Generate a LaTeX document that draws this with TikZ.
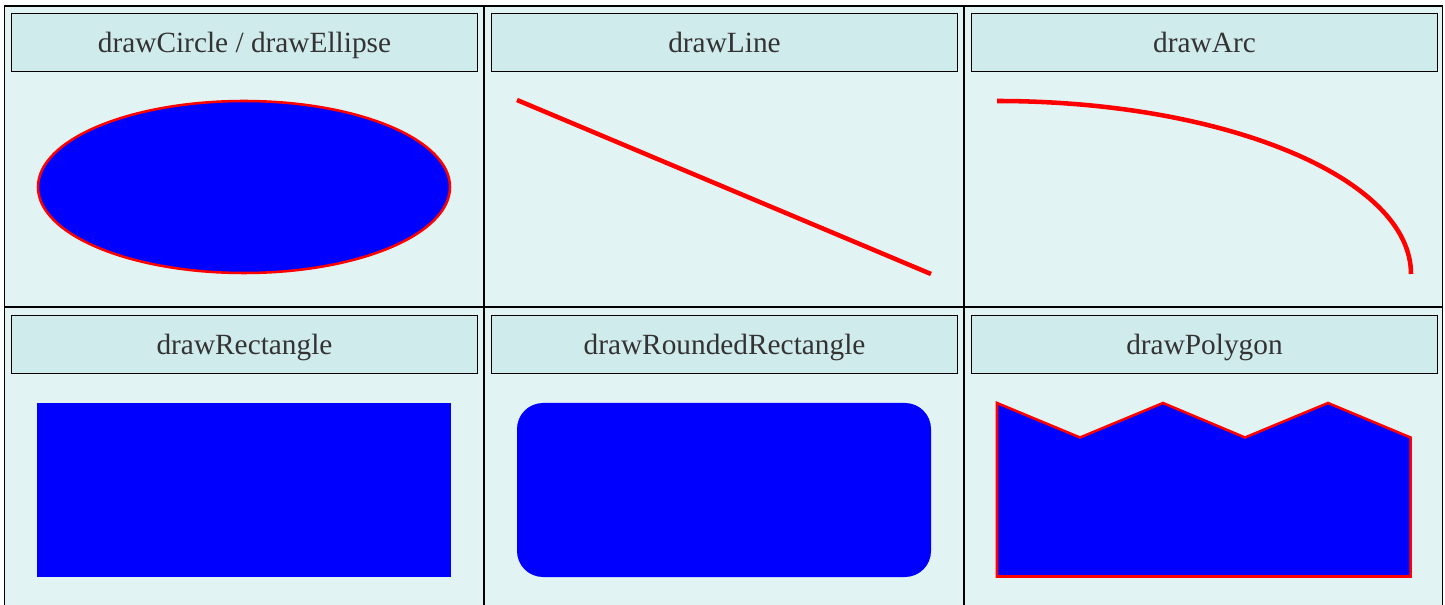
\documentclass[tikz,border=0pt]{standalone}
\usepackage{fontspec}
\setmainfont{Liberation Serif}
\definecolor{cellbg}{RGB}{226,243,243}
\definecolor{titlebg}{RGB}{208,235,236}
\definecolor{titletext}{RGB}{51,51,51}
\begin{document}
\begin{tikzpicture}[x=0.75pt,y=-0.75pt,
  cell/.style={draw=black,line width=1.2pt,fill=cellbg},
  titlebox/.style={draw=black,line width=0.75pt,fill=titlebg,minimum width=349.5pt,minimum height=43.5pt,inner sep=0pt,text height=16.5pt,text depth=2pt,anchor=north west,text=titletext,font=\fontsize{22}{26}\selectfont},
  shapefill/.style={fill=blue},
  redline/.style={draw=red,line width=3.4pt},
  rededge/.style={draw=red,line width=1.9pt}]
\useasboundingbox (0,0) rectangle (1445,605);
% cells
\draw[cell] (4.5,6) rectangle (484,307);
\draw[cell] (484,6) rectangle (964,307);
\draw[cell] (964,6) rectangle (1442.5,307);
\draw[cell] (4.5,307) rectangle (484,612);
\draw[cell] (484,307) rectangle (964,612);
\draw[cell] (964,307) rectangle (1442.5,612);
% titles
\node[titlebox] (t1) at (11,13) {drawCircle / drawEllipse};
\node[titlebox] (t2) at (491,13) {drawLine};
\node[titlebox] (t3) at (971,13) {drawArc};
\node[titlebox] (t4) at (11,315) {drawRectangle};
\node[titlebox] (t5) at (491,315) {drawRoundedRectangle};
\node[titlebox] (t6) at (971,315) {drawPolygon};
% ellipse
\draw[shapefill,rededge] (244,187) ellipse [x radius=206, y radius=86];
% line
\draw[redline] (517,100) -- (931,274);
% arc
\draw[redline] (997,101) arc[start angle=-90, end angle=0, x radius=414, y radius=173];
% rectangle
\fill[shapefill] (37,403) rectangle (451,577);
% rounded rectangle
\fill[shapefill,rounded corners=19.5pt] (517,403) rectangle (931,577);
% polygon
\draw[shapefill,rededge] (997,403) -- (1080,437.5) -- (1163,403) -- (1245,437.5) -- (1328,403) -- (1410.5,437.5) -- (1410.5,576.5) -- (997,576.5) -- cycle;
\end{tikzpicture}
\end{document}
